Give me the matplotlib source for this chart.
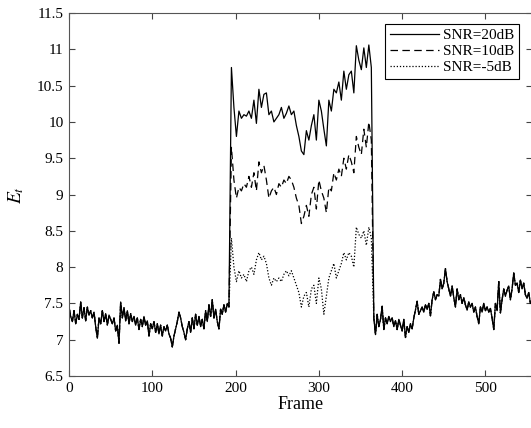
import numpy as np
import matplotlib
matplotlib.use("Agg")
from matplotlib import pyplot as plt

plt.rcParams['font.family'] = ['Liberation Serif', 'DejaVu Serif']
plt.rcParams['mathtext.fontset'] = 'stix'

# shared part of all three curves before the speech segment (frames 0..192, every 2nd)
outer_left = [7.45, 7.32, 7.25, 7.40, 7.22, 7.35, 7.28, 7.52, 7.30, 7.44, 7.26,
              7.45, 7.34, 7.40, 7.30, 7.38, 7.18, 7.02, 7.30, 7.22, 7.40,
              7.25, 7.36, 7.20, 7.34, 7.28, 7.22, 7.30, 7.12, 7.20, 6.95,
              7.52, 7.30, 7.44, 7.26, 7.40, 7.22, 7.36, 7.25, 7.32, 7.20,
              7.30, 7.14, 7.28, 7.18, 7.32, 7.20, 7.26, 7.05, 7.22, 7.15,
              7.25, 7.10, 7.22, 7.08, 7.20, 7.05, 7.18, 7.12, 7.20, 7.08,
              7.02, 6.90, 7.05, 7.15, 7.25, 7.38, 7.30, 7.18, 7.10, 7.00,
              7.15, 7.25, 7.10, 7.30, 7.15, 7.35, 7.20, 7.32, 7.18, 7.28,
              7.15, 7.40, 7.25, 7.48, 7.32, 7.55, 7.30, 7.42, 7.25, 7.15,
              7.42, 7.35, 7.48, 7.38, 7.50, 7.45]

# speech segment, frames 195..363 (every 3rd)
snr20 = [10.75, 10.20, 9.80, 10.15, 10.05, 10.10, 10.08, 10.15, 10.05, 10.30,
         9.98, 10.45, 10.20, 10.38, 10.40, 10.10, 10.15, 10.00, 10.05, 10.10,
         10.20, 10.05, 10.12, 10.22, 10.10, 10.15, 9.95, 9.80, 9.60, 9.55,
         9.88, 9.75, 9.95, 10.10, 9.75, 10.30, 10.15, 9.90, 9.67, 10.30,
         10.15, 10.45, 10.40, 10.55, 10.30, 10.70, 10.45, 10.65, 10.70, 10.40,
         11.05, 10.85, 10.72, 11.02, 10.75, 11.06, 10.75]

snr10 = [9.65, 9.20, 8.95, 9.10, 9.05, 9.15, 9.10, 9.25, 9.10, 9.30,
         9.05, 9.45, 9.30, 9.40, 9.20, 8.95, 9.05, 9.10, 9.00, 9.15,
         9.10, 9.20, 9.15, 9.25, 9.20, 9.10, 8.95, 8.85, 8.60, 8.70,
         8.85, 8.70, 9.00, 9.10, 8.80, 9.20, 9.05, 8.95, 8.75, 9.10,
         9.05, 9.30, 9.20, 9.35, 9.25, 9.50, 9.35, 9.55, 9.45, 9.30,
         9.80, 9.65, 9.55, 9.90, 9.65, 10.00, 9.75]

snr_m5 = [8.40, 8.00, 7.80, 7.95, 7.85, 7.90, 7.80, 7.95, 8.00, 7.90,
          8.10, 8.20, 8.10, 8.15, 8.05, 7.85, 7.75, 7.85, 7.80, 7.85,
          7.80, 7.90, 7.95, 7.88, 7.95, 7.85, 7.75, 7.65, 7.45, 7.60,
          7.65, 7.45, 7.70, 7.75, 7.50, 7.85, 7.70, 7.35, 7.60, 7.85,
          7.95, 8.05, 7.85, 7.95, 8.05, 8.20, 8.10, 8.20, 8.15, 8.00,
          8.55, 8.45, 8.40, 8.50, 8.30, 8.55, 8.40]

# shared part after the speech segment (frames 366..554, every 2nd)
outer_right = [7.30, 7.07, 7.35, 7.18, 7.28, 7.46, 7.14, 7.30, 7.22, 7.32,
               7.25, 7.30, 7.18, 7.26, 7.14, 7.28, 7.20, 7.12, 7.28, 7.03,
               7.18, 7.10, 7.22, 7.15, 7.30, 7.41, 7.53, 7.35, 7.40, 7.45,
               7.38, 7.48, 7.42, 7.50, 7.33, 7.55, 7.66, 7.55, 7.62, 7.60,
               7.83, 7.70, 7.78, 7.98, 7.80, 7.70, 7.60, 7.74, 7.58, 7.45,
               7.70, 7.55, 7.62, 7.50, 7.58, 7.48, 7.41, 7.52, 7.45, 7.50,
               7.38, 7.45, 7.32, 7.22, 7.45, 7.38, 7.50, 7.40, 7.45, 7.38,
               7.43, 7.30, 7.14, 7.50, 7.40, 7.80, 7.37, 7.55, 7.70, 7.60,
               7.68, 7.74, 7.55, 7.70, 7.92, 7.75, 7.78, 7.65, 7.82, 7.70,
               7.78, 7.62, 7.57, 7.65, 7.50]

labels = ['SNR=20dB', 'SNR=10dB', 'SNR=-5dB']
styles = ['-', (0, (6, 3.5)), (0, (1, 1.5))]

x_left = np.arange(len(outer_left)) * 2
x_mid = 195 + np.arange(len(snr20)) * 3
x_right = 366 + np.arange(len(outer_right)) * 2
frames = np.concatenate([x_left, x_mid, x_right])

fig = plt.figure(figsize=(5.31, 4.28), dpi=100)
ax = fig.add_axes([0.130, 0.1215, 0.872, 0.848])

for inner, lab, ls in zip([snr20, snr10, snr_m5], labels, styles):
    y = np.array(outer_left + inner + outer_right)
    ax.plot(frames, y, color='black', linestyle=ls, linewidth=0.9, label=lab)

ax.set_xlim(0, 556)
ax.set_ylim(6.5, 11.5)
ax.set_xticks(np.arange(0, 501, 100))
ax.set_yticks(np.arange(6.5, 11.51, 0.5))
ax.set_yticklabels(['6.5', '7', '7.5', '8', '8.5', '9', '9.5', '10', '10.5', '11', '11.5'])
ax.tick_params(direction='in', top=True, right=True, length=4, width=0.8,
               labelsize=11, color='#444444', pad=4)
for sp in ax.spines.values():
    sp.set_color('#555555')
    sp.set_linewidth(0.8)

ax.set_xlabel('Frame', fontsize=13, labelpad=1)
ax.set_ylabel('$E_t$', fontsize=14, labelpad=8)

leg = ax.legend(loc='upper right', bbox_to_anchor=(519 / 531, 1 - 24 / 428),
                bbox_transform=fig.transFigure, borderaxespad=0, fontsize=11,
                fancybox=False, framealpha=1, edgecolor='black',
                handlelength=3.2, handletextpad=0.3, borderpad=0.3,
                labelspacing=0.15)
leg.get_frame().set_linewidth(0.8)

fig.savefig('out.png', dpi=100)
